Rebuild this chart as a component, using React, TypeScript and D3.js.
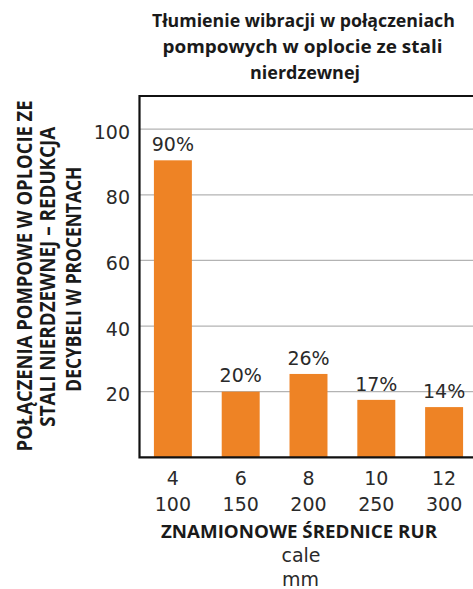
import React from "react";
import * as d3 from "d3";

const categoriesInch = ["4", "6", "8", "10", "12"];
const categoriesMm = ["100", "150", "200", "250", "300"];
const barValues = [90.5, 20, 25.4, 17.5, 15.3];
const barLabels = ["90%", "20%", "26%", "17%", "14%"];
const yTicks = [20, 40, 60, 80, 100];
const titleLines = ["Tłumienie wibracji w połączeniach", "pompowych w oplocie ze stali", "nierdzewnej"];
const yTitleLines = ["POŁĄCZENIA POMPOWE W OPLOCIE ZE", "STALI NIERDZEWNEJ – REDUKCJA", "DECYBELI W PROCENTACH"];
const xTitle = "ZNAMIONOWE ŚREDNICE RUR";
const xUnits = ["cale", "mm"];

const W = 473;
const H = 589;
const left = 139.5;
const right = 478;
const top = 96;
const bottom = 457.3;

const x = d3.scaleBand<string>().domain(categoriesInch).range([139, right]).paddingInner(0.44).paddingOuter(0.22);
const y = d3.scaleLinear().domain([0, 110.1]).range([bottom, top]);

const regular = "'DejaVu Sans', sans-serif";
const bold = "'Open Sans', sans-serif";

const titleLayout = [
  { cx: 303.4, base: 26.7, len: 303 },
  { cx: 302.5, base: 53.2, len: 280 },
  { cx: 305, base: 79.3, len: 110 },
];
const yTitleLayout = [
  { base: 31.7, cy: 275.9, len: 351 },
  { base: 55, cy: 276.7, len: 300 },
  { base: 80.5, cy: 279.2, len: 225 },
];

export default function App() {
  return (
    <svg width={W} height={H} style={{ position: "absolute", left: 0, top: 0, background: "#fff" }}>
      {titleLines.map((t, i) => (
        <text
          key={t}
          x={titleLayout[i].cx}
          y={titleLayout[i].base}
          textAnchor="middle"
          fontFamily={bold}
          fontWeight={700}
          fontSize={18.5}
          fill="#1a1a1a"
          textLength={titleLayout[i].len}
          lengthAdjust="spacingAndGlyphs"
        >
          {t}
        </text>
      ))}
      {yTicks.map((v) => (
        <line key={"g" + v} x1={left} x2={W} y1={y(v)} y2={y(v)} stroke="#b3b3b3" strokeWidth={1.2} />
      ))}
      {barValues.map((v, i) => (
        <rect key={"b" + i} x={x(categoriesInch[i])} y={y(v)} width={x.bandwidth()} height={bottom - y(v)} fill="#ee8325" />
      ))}
      {barValues.map((v, i) => (
        <text
          key={"l" + i}
          x={(x(categoriesInch[i]) as number) + x.bandwidth() / 2}
          y={y(v) - 9.3}
          textAnchor="middle"
          fontFamily={regular}
          fontSize={19}
          fill="#2a2a2a"
        >
          {barLabels[i]}
        </text>
      ))}
      <path d={`M${W + 5},${top} H${left} V${bottom} H${W + 5}`} fill="none" stroke="#111" strokeWidth={2.2} />
      {yTicks.map((v) => (
        <text key={"t" + v} x={130} y={y(v) + 9.5} textAnchor="end" fontFamily={regular} fontSize={19} fill="#2a2a2a">
          {v}
        </text>
      ))}
      {categoriesInch.map((c, i) => {
        const cx = (x(c) as number) + x.bandwidth() / 2;
        return (
          <g key={"x" + c}>
            <text x={cx} y={485} textAnchor="middle" fontFamily={regular} fontSize={19} fill="#2a2a2a">
              {c}
            </text>
            <text x={cx} y={510.5} textAnchor="middle" fontFamily={regular} fontSize={19} fill="#2a2a2a">
              {categoriesMm[i]}
            </text>
          </g>
        );
      })}
      <text
        x={299}
        y={537.7}
        textAnchor="middle"
        fontFamily={bold}
        fontWeight={700}
        fontSize={17.8}
        fill="#1a1a1a"
        textLength={276}
        lengthAdjust="spacingAndGlyphs"
      >
        {xTitle}
      </text>
      <text x={301} y={561.7} textAnchor="middle" fontFamily={regular} fontSize={19} fill="#2a2a2a">
        {xUnits[0]}
      </text>
      <text x={300.5} y={586.3} textAnchor="middle" fontFamily={regular} fontSize={19} fill="#2a2a2a">
        {xUnits[1]}
      </text>
      {yTitleLines.map((t, i) => (
        <text
          key={t}
          transform={`translate(${yTitleLayout[i].base},${yTitleLayout[i].cy}) rotate(-90)`}
          textAnchor="middle"
          fontFamily={bold}
          fontWeight={700}
          fontSize={22}
          fill="#1a1a1a"
          textLength={yTitleLayout[i].len}
          lengthAdjust="spacingAndGlyphs"
        >
          {t}
        </text>
      ))}
    </svg>
  );
}
